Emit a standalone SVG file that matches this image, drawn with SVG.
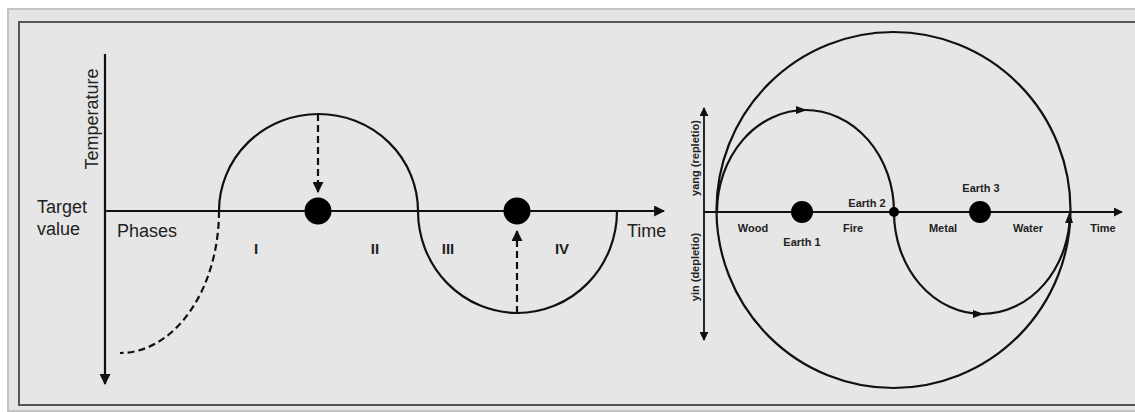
<svg xmlns="http://www.w3.org/2000/svg" width="1135" height="412" viewBox="0 0 1135 412">
<defs>
<style>
.ln{fill:none;stroke:#111;stroke-width:2.2}
.th{fill:none;stroke:#111;stroke-width:1.8}
.ds{fill:none;stroke:#111;stroke-width:2.2;stroke-dasharray:7 4}
.big{font-family:"Liberation Sans",Arial,sans-serif;font-size:18px;fill:#222}
.rom{font-family:"Liberation Sans",Arial,sans-serif;font-size:15px;font-weight:bold;fill:#222}
.sm{font-family:"Liberation Sans",Arial,sans-serif;font-size:11px;font-weight:bold;fill:#222}
.dot{fill:#000}
</style>
<marker id="ah" viewBox="0 0 10 10" refX="9" refY="5" markerWidth="5" markerHeight="5" orient="auto-start-reverse">
<path d="M0,0 L10,5 L0,10 z" fill="#111"/>
</marker>
</defs>
<rect x="0" y="0" width="1135" height="412" fill="#ffffff"/>
<rect x="8" y="9" width="1140" height="402" fill="#e4e4e4" stroke="#c4c4c4" stroke-width="2"/>
<rect x="19" y="22" width="1130" height="383" fill="#e6e6e6" stroke="#555" stroke-width="2"/>

<g id="connectors">
<!-- left chart axes -->
<line class="ln" x1="105" y1="54" x2="105" y2="384" marker-end="url(#ah)"/>
<line class="ln" x1="105" y1="211" x2="664" y2="211" marker-end="url(#ah)"/>
<!-- curves -->
<path class="ln" d="M219,211 A99.5,97 0 0 1 418,211"/>
<path class="ln" d="M418,211 A99.5,102 0 0 0 617,211"/>
<path class="ds" d="M219,211 A99,142 0 0 1 120,353"/>
<line class="ds" x1="318" y1="114" x2="318" y2="192" marker-end="url(#ah)"/>
<line class="ds" x1="517" y1="313" x2="517" y2="231" marker-end="url(#ah)"/>
<!-- right chart axes -->
<line class="th" x1="704" y1="108" x2="704" y2="340" marker-start="url(#ah)" marker-end="url(#ah)"/>
<line class="th" x1="704" y1="212" x2="1122" y2="212" marker-end="url(#ah)"/>
<ellipse class="ln" cx="893.5" cy="210" rx="177" ry="178"/>
<path class="ln" d="M717,212 A88.5,102 0 0 1 894,212 A88,102 0 0 0 1070,212"/>
<polygon points="796,106 807,110 796,114" fill="#111"/>
<polygon points="973,310 984,314 973,318" fill="#111"/>
<polygon points="1065,223 1069.5,212 1073,223" fill="#111"/>
</g>

<g id="left-labels">
<text class="big" transform="translate(98,119) rotate(-90)" text-anchor="middle">Temperature</text>
<text class="big" x="37" y="213">Target</text>
<text class="big" x="37" y="235">value</text>
<text class="big" x="117" y="237">Phases</text>
<text class="big" x="627" y="237">Time</text>
<text class="rom" x="256" y="254" text-anchor="middle">I</text>
<text class="rom" x="375" y="254" text-anchor="middle">II</text>
<text class="rom" x="448" y="254" text-anchor="middle">III</text>
<text class="rom" x="562" y="254" text-anchor="middle">IV</text>
</g>

<g id="node-setpoint-1"><circle class="dot" cx="318" cy="211" r="13.5"/></g>
<g id="node-setpoint-2"><circle class="dot" cx="517" cy="211" r="13.5"/></g>

<g id="right-labels">
<text class="sm" transform="translate(699,158) rotate(-90)" text-anchor="middle">yang (repletio)</text>
<text class="sm" transform="translate(699,267) rotate(-90)" text-anchor="middle">yin (depletio)</text>
<text class="sm" x="753" y="232" text-anchor="middle">Wood</text>
<text class="sm" x="853" y="232" text-anchor="middle">Fire</text>
<text class="sm" x="943" y="232" text-anchor="middle">Metal</text>
<text class="sm" x="1028" y="232" text-anchor="middle">Water</text>
<text class="sm" x="1103" y="232" text-anchor="middle">Time</text>
</g>

<g id="node-earth-1"><circle class="dot" cx="802" cy="212" r="11"/><text class="sm" x="802" y="246" text-anchor="middle">Earth 1</text></g>
<g id="node-earth-2"><circle class="dot" cx="894" cy="212" r="5"/><text class="sm" x="867" y="207" text-anchor="middle">Earth 2</text></g>
<g id="node-earth-3"><circle class="dot" cx="980" cy="212" r="11"/><text class="sm" x="981" y="192" text-anchor="middle">Earth 3</text></g>
</svg>
